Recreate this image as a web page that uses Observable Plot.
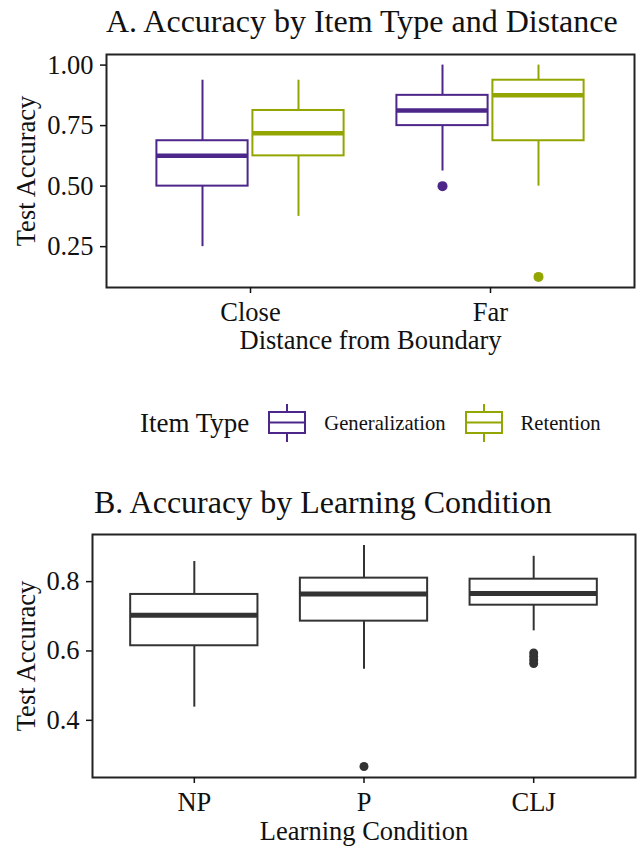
<!DOCTYPE html>
<html><head><meta charset="utf-8">
<script src="https://cdn.jsdelivr.net/npm/d3@7"></script>
<script src="https://cdn.jsdelivr.net/npm/@observablehq/plot@0.6"></script>
<style>
html,body{margin:0;padding:0;background:#fff;}
#root{position:relative;width:639px;height:848px;overflow:hidden;font-family:"Liberation Serif","Times New Roman",serif;color:#111;}
.title{position:absolute;font-size:32px;line-height:32px;white-space:nowrap;}
#legend{position:absolute;left:140px;top:404px;height:38px;display:flex;align-items:center;white-space:nowrap;}
#legend .legTitle{font-size:27px;line-height:27px;margin-right:19px;}
#legend .legLabel{font-size:20.6px;line-height:21px;margin-left:18px;margin-right:19px;}
#legend svg{display:block;}
</style></head>
<body><div id="root">
<div class="title" style="left:106px;top:5px">A. Accuracy by Item Type and Distance</div>
<div id="chartA" style="position:absolute;left:0;top:40px"></div>
<div id="legend"></div>
<div class="title" style="left:94px;top:486px">B. Accuracy by Learning Condition</div>
<div id="chartB" style="position:absolute;left:0;top:520px"></div>
</div>
<script>
// ---------- Panel A data ----------
const distances = ["Close", "Far"];
const itemTypes = ["Generalization", "Retention"];
const itemColors = ["#4d2689", "#93a500"];
const boxDistanceA = ["Close", "Close", "Far", "Far"];
const boxTypeA = ["Generalization", "Retention", "Generalization", "Retention"];
const lowerA = [0.25, 0.375, 0.5625, 0.5];
const q1A = [0.5, 0.625, 0.75, 0.6875];
const medianA = [0.625, 0.71875, 0.8125, 0.875];
const q3A = [0.6875, 0.8125, 0.875, 0.9375];
const upperA = [0.9375, 0.9375, 1.0, 1.0];
const outlierDistanceA = ["Far", "Far"];
const outlierTypeA = ["Generalization", "Retention"];
const outlierValueA = [0.5, 0.125];
const yTicksA = [0.25, 0.5, 0.75, 1.0];

// ---------- Panel B data ----------
const conditions = ["NP", "P", "CLJ"];
const lowerB = [0.438, 0.547, 0.658];
const q1B = [0.615, 0.686, 0.732];
const medianB = [0.703, 0.764, 0.766];
const q3B = [0.763, 0.81, 0.807];
const upperB = [0.858, 0.904, 0.873];
const outlierConditionB = ["P", "CLJ", "CLJ", "CLJ", "CLJ"];
const outlierValueB = [0.267, 0.594, 0.584, 0.574, 0.564];
const yTicksB = [0.4, 0.6, 0.8];

// ---------- layout constants ----------
const DODGE = 0.2, HALF_A = 0.19, HALF_B = 0.375;
const FONT = "'Liberation Serif','Times New Roman',serif";
const style = {fontFamily: FONT, fontSize: "26.5px", color: "#111", background: "white", overflow: "visible"};

function expand(vals) {
  const mn = d3.min(vals), mx = d3.max(vals), p = (mx - mn) * 0.05;
  return [mn - p, mx + p];
}

const rowsA = boxTypeA.map((t, i) => {
  const xc = distances.indexOf(boxDistanceA[i]) + 1 + (itemTypes.indexOf(t) - 0.5) * 2 * DODGE;
  return {type: t, x: xc, x1: xc - HALF_A, x2: xc + HALF_A, lo: lowerA[i], q1: q1A[i], med: medianA[i], q3: q3A[i], hi: upperA[i]};
});
const outA = outlierValueA.map((v, i) => ({
  type: outlierTypeA[i],
  x: distances.indexOf(outlierDistanceA[i]) + 1 + (itemTypes.indexOf(outlierTypeA[i]) - 0.5) * 2 * DODGE,
  v
}));

const chartA = Plot.plot({
  width: 639, height: 320,
  marginLeft: 106, marginRight: 5, marginTop: 14, marginBottom: 73,
  style,
  x: {domain: [0.4, distances.length + 0.6]},
  y: {domain: expand([...lowerA, ...upperA, ...outlierValueA])},
  color: {domain: itemTypes, range: itemColors},
  marks: [
    Plot.ruleX(rowsA, {x: "x", y1: "lo", y2: "q1", stroke: "type", strokeWidth: 2}),
    Plot.ruleX(rowsA, {x: "x", y1: "q3", y2: "hi", stroke: "type", strokeWidth: 2}),
    Plot.rect(rowsA, {x1: "x1", x2: "x2", y1: "q1", y2: "q3", stroke: "type", fill: "white", strokeWidth: 2}),
    Plot.ruleY(rowsA, {y: "med", x1: "x1", x2: "x2", stroke: "type", strokeWidth: 4.5}),
    Plot.dot(outA, {x: "x", y: "v", fill: "type", r: 5}),
    Plot.frame({stroke: "#222", strokeWidth: 2}),
    Plot.axisX({ticks: distances.map((d, i) => i + 1), tickFormat: i => distances[i - 1], tickSize: 6, tickPadding: 9, strokeWidth: 1.5,
      label: "Distance from Boundary", labelAnchor: "center", labelOffset: 61, labelArrow: "none"}),
    Plot.axisY({ticks: yTicksA, tickFormat: d3.format(".2f"), tickSize: 6, tickPadding: 7, strokeWidth: 1.5,
      label: "Test Accuracy", labelAnchor: "center", labelOffset: 90, labelArrow: "none"})
  ]
});
document.getElementById("chartA").append(chartA);

// ---------- legend ----------
const legend = d3.select("#legend");
legend.append("span").attr("class", "legTitle").text("Item Type");
itemTypes.forEach((t, i) => {
  const c = itemColors[i];
  const s = legend.append("svg").attr("width", 38).attr("height", 38);
  s.append("line").attr("x1", 19).attr("x2", 19).attr("y1", 0).attr("y2", 8).attr("stroke", c).attr("stroke-width", 2);
  s.append("line").attr("x1", 19).attr("x2", 19).attr("y1", 29).attr("y2", 38).attr("stroke", c).attr("stroke-width", 2);
  s.append("rect").attr("x", 1).attr("y", 8).attr("width", 36).attr("height", 21).attr("fill", "white").attr("stroke", c).attr("stroke-width", 2);
  s.append("line").attr("x1", 1).attr("x2", 37).attr("y1", 18.5).attr("y2", 18.5).attr("stroke", c).attr("stroke-width", 2);
  legend.append("span").attr("class", "legLabel").text(t);
});

// ---------- Panel B ----------
const rowsB = conditions.map((c, i) => ({
  x: i + 1, x1: i + 1 - HALF_B, x2: i + 1 + HALF_B,
  lo: lowerB[i], q1: q1B[i], med: medianB[i], q3: q3B[i], hi: upperB[i]
}));
const outB = outlierValueB.map((v, i) => ({x: conditions.indexOf(outlierConditionB[i]) + 1, v}));

const chartB = Plot.plot({
  width: 639, height: 328,
  marginLeft: 92, marginRight: 4, marginTop: 14, marginBottom: 71,
  style,
  x: {domain: [0.4, conditions.length + 0.6]},
  y: {domain: expand([...lowerB, ...upperB, ...outlierValueB])},
  marks: [
    Plot.ruleX(rowsB, {x: "x", y1: "lo", y2: "q1", stroke: "#333", strokeWidth: 2}),
    Plot.ruleX(rowsB, {x: "x", y1: "q3", y2: "hi", stroke: "#333", strokeWidth: 2}),
    Plot.rect(rowsB, {x1: "x1", x2: "x2", y1: "q1", y2: "q3", stroke: "#333", fill: "white", strokeWidth: 2}),
    Plot.ruleY(rowsB, {y: "med", x1: "x1", x2: "x2", stroke: "#333", strokeWidth: 5}),
    Plot.dot(outB, {x: "x", y: "v", fill: "#333", r: 4.5}),
    Plot.frame({stroke: "#222", strokeWidth: 2}),
    Plot.axisX({ticks: conditions.map((d, i) => i + 1), tickFormat: i => conditions[i - 1], tickSize: 6, tickPadding: 9, strokeWidth: 1.5,
      label: "Learning Condition", labelAnchor: "center", labelOffset: 62, labelArrow: "none"}),
    Plot.axisY({ticks: yTicksB, tickFormat: d3.format(".1f"), tickSize: 6, tickPadding: 7, strokeWidth: 1.5,
      label: "Test Accuracy", labelAnchor: "center", labelOffset: 76, labelArrow: "none"})
  ]
});
document.getElementById("chartB").append(chartB);
</script>
</body></html>
